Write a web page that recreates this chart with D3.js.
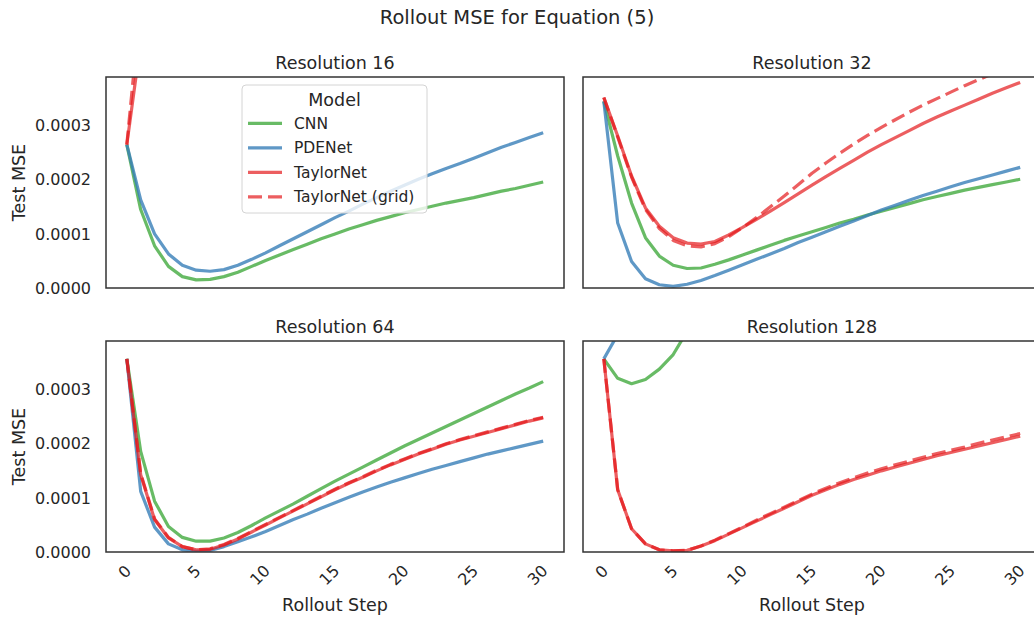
<!DOCTYPE html>
<html><head><meta charset="utf-8">
<script src="https://cdn.jsdelivr.net/npm/d3@7"></script>
<style>
body{margin:0;background:#fff}
text{font-family:"DejaVu Sans",sans-serif;fill:#262626}
</style>
</head><body>
<svg id="chart" width="1034" height="620"></svg>
<script>
// ---------- data ----------
const steps = [0,1,2,3,4,5,6,7,8,9,10,11,12,13,14,15,16,17,18,19,20,21,22,23,24,25,26,27,28,29,30];
const models = ["CNN","PDENet","TaylorNet","TaylorNet (grid)"];
const resolutions = ["Resolution 16","Resolution 32","Resolution 64","Resolution 128"];
const yTicks = [0,0.0001,0.0002,0.0003];
const xTicks = [0,5,10,15,20,25,30];

// Resolution 16
const r16_cnn = [2.65e-4,1.45e-4,0.78e-4,0.40e-4,0.21e-4,0.15e-4,0.16e-4,0.21e-4,0.29e-4,0.40e-4,0.51e-4,0.61e-4,0.71e-4,0.81e-4,0.91e-4,1.00e-4,1.09e-4,1.17e-4,1.25e-4,1.32e-4,1.39e-4,1.45e-4,1.51e-4,1.57e-4,1.62e-4,1.67e-4,1.73e-4,1.79e-4,1.84e-4,1.90e-4,1.96e-4];
const r16_pde = [2.65e-4,1.63e-4,1.00e-4,0.63e-4,0.42e-4,0.33e-4,0.31e-4,0.34e-4,0.42e-4,0.53e-4,0.65e-4,0.78e-4,0.91e-4,1.04e-4,1.17e-4,1.30e-4,1.42e-4,1.55e-4,1.67e-4,1.79e-4,1.90e-4,2.01e-4,2.11e-4,2.21e-4,2.30e-4,2.40e-4,2.50e-4,2.60e-4,2.69e-4,2.78e-4,2.87e-4];
const r16_tay = [2.65e-4,4.55e-4,7.2e-4,10.5e-4,14.8e-4,20.1e-4,26.5e-4,34.0e-4,43.0e-4,53.0e-4,64.0e-4,76.0e-4,89.0e-4,103e-4,118e-4,134e-4,151e-4,169e-4,188e-4,208e-4,229e-4,251e-4,274e-4,298e-4,323e-4,349e-4,376e-4,404e-4,433e-4,463e-4,494e-4];
const r16_tayg = [2.65e-4,5.30e-4,8.6e-4,12.9e-4,18.2e-4,24.8e-4,32.5e-4,41.5e-4,52.0e-4,64.0e-4,77.0e-4,91.0e-4,106e-4,122e-4,139e-4,157e-4,176e-4,196e-4,217e-4,239e-4,262e-4,286e-4,311e-4,337e-4,364e-4,392e-4,421e-4,451e-4,482e-4,514e-4,547e-4];

// Resolution 32
const r32_cnn = [3.45e-4,2.44e-4,1.57e-4,0.93e-4,0.59e-4,0.42e-4,0.36e-4,0.37e-4,0.44e-4,0.52e-4,0.61e-4,0.70e-4,0.79e-4,0.88e-4,0.96e-4,1.04e-4,1.12e-4,1.20e-4,1.27e-4,1.35e-4,1.42e-4,1.49e-4,1.56e-4,1.63e-4,1.69e-4,1.75e-4,1.81e-4,1.86e-4,1.91e-4,1.96e-4,2.01e-4];
const r32_pde = [3.45e-4,1.20e-4,0.49e-4,0.17e-4,0.06e-4,0.03e-4,0.07e-4,0.14e-4,0.23e-4,0.33e-4,0.43e-4,0.53e-4,0.63e-4,0.73e-4,0.84e-4,0.94e-4,1.04e-4,1.14e-4,1.24e-4,1.34e-4,1.44e-4,1.53e-4,1.62e-4,1.71e-4,1.79e-4,1.87e-4,1.95e-4,2.02e-4,2.09e-4,2.16e-4,2.23e-4];
const r32_tay = [3.52e-4,2.81e-4,2.07e-4,1.48e-4,1.14e-4,0.93e-4,0.83e-4,0.81e-4,0.86e-4,0.98e-4,1.12e-4,1.27e-4,1.42e-4,1.58e-4,1.74e-4,1.90e-4,2.06e-4,2.21e-4,2.36e-4,2.51e-4,2.65e-4,2.78e-4,2.91e-4,3.04e-4,3.16e-4,3.27e-4,3.38e-4,3.49e-4,3.60e-4,3.70e-4,3.80e-4];
const r32_tayg = [3.52e-4,2.79e-4,2.05e-4,1.45e-4,1.10e-4,0.88e-4,0.78e-4,0.76e-4,0.82e-4,0.95e-4,1.12e-4,1.30e-4,1.50e-4,1.70e-4,1.91e-4,2.12e-4,2.31e-4,2.49e-4,2.66e-4,2.82e-4,2.97e-4,3.11e-4,3.25e-4,3.38e-4,3.50e-4,3.62e-4,3.74e-4,3.85e-4,3.96e-4,4.06e-4,4.16e-4];

// Resolution 64
const r64_cnn = [3.57e-4,1.86e-4,0.94e-4,0.47e-4,0.27e-4,0.20e-4,0.20e-4,0.26e-4,0.36e-4,0.49e-4,0.63e-4,0.76e-4,0.89e-4,1.03e-4,1.17e-4,1.31e-4,1.44e-4,1.57e-4,1.70e-4,1.83e-4,1.96e-4,2.08e-4,2.20e-4,2.32e-4,2.44e-4,2.56e-4,2.68e-4,2.80e-4,2.92e-4,3.03e-4,3.15e-4];
const r64_pde = [3.57e-4,1.12e-4,0.46e-4,0.15e-4,0.04e-4,0.01e-4,0.03e-4,0.10e-4,0.19e-4,0.28e-4,0.38e-4,0.49e-4,0.60e-4,0.70e-4,0.81e-4,0.91e-4,1.01e-4,1.11e-4,1.20e-4,1.29e-4,1.37e-4,1.45e-4,1.53e-4,1.60e-4,1.67e-4,1.74e-4,1.81e-4,1.87e-4,1.93e-4,1.99e-4,2.05e-4];
const r64_tay = [3.57e-4,1.43e-4,0.60e-4,0.26e-4,0.10e-4,0.04e-4,0.05e-4,0.13e-4,0.24e-4,0.37e-4,0.50e-4,0.63e-4,0.76e-4,0.89e-4,1.02e-4,1.15e-4,1.27e-4,1.38e-4,1.50e-4,1.61e-4,1.71e-4,1.81e-4,1.90e-4,1.99e-4,2.07e-4,2.14e-4,2.21e-4,2.28e-4,2.35e-4,2.42e-4,2.48e-4];
const r64_tayg = [3.57e-4,1.45e-4,0.61e-4,0.27e-4,0.10e-4,0.04e-4,0.06e-4,0.14e-4,0.25e-4,0.38e-4,0.51e-4,0.64e-4,0.77e-4,0.90e-4,1.03e-4,1.16e-4,1.28e-4,1.39e-4,1.51e-4,1.62e-4,1.72e-4,1.82e-4,1.91e-4,2.00e-4,2.08e-4,2.15e-4,2.22e-4,2.29e-4,2.36e-4,2.43e-4,2.49e-4];

// Resolution 128
const r128_cnn = [3.57e-4,3.21e-4,3.11e-4,3.19e-4,3.38e-4,3.65e-4,4.08e-4,4.60e-4,5.20e-4,5.90e-4,6.70e-4,7.60e-4,8.60e-4,9.70e-4,10.9e-4,12.2e-4,13.6e-4,15.1e-4,16.7e-4,18.4e-4,20.2e-4,22.1e-4,24.1e-4,26.2e-4,28.4e-4,30.7e-4,33.1e-4,35.6e-4,38.2e-4,40.9e-4,43.7e-4];
const r128_pde = [3.57e-4,4.02e-4,4.70e-4,5.50e-4,6.40e-4,7.40e-4,8.50e-4,9.70e-4,11.0e-4,12.4e-4,13.9e-4,15.5e-4,17.2e-4,19.0e-4,20.9e-4,22.9e-4,25.0e-4,27.2e-4,29.5e-4,31.9e-4,34.4e-4,37.0e-4,39.7e-4,42.5e-4,45.4e-4,48.4e-4,51.5e-4,54.7e-4,58.0e-4,61.4e-4,64.9e-4];
const r128_tay = [3.57e-4,1.15e-4,0.43e-4,0.15e-4,0.04e-4,0.02e-4,0.03e-4,0.11e-4,0.21e-4,0.33e-4,0.45e-4,0.57e-4,0.69e-4,0.81e-4,0.93e-4,1.05e-4,1.15e-4,1.25e-4,1.34e-4,1.42e-4,1.50e-4,1.57e-4,1.64e-4,1.71e-4,1.78e-4,1.84e-4,1.90e-4,1.96e-4,2.02e-4,2.08e-4,2.14e-4];
const r128_tayg = [3.57e-4,1.15e-4,0.43e-4,0.15e-4,0.04e-4,0.02e-4,0.03e-4,0.11e-4,0.22e-4,0.34e-4,0.46e-4,0.59e-4,0.71e-4,0.83e-4,0.95e-4,1.07e-4,1.18e-4,1.28e-4,1.37e-4,1.46e-4,1.54e-4,1.61e-4,1.68e-4,1.75e-4,1.82e-4,1.88e-4,1.94e-4,2.01e-4,2.07e-4,2.13e-4,2.19e-4];

const panelSeries = [
  [r16_cnn, r16_pde, r16_tay, r16_tayg],
  [r32_cnn, r32_pde, r32_tay, r32_tayg],
  [r64_cnn, r64_pde, r64_tay, r64_tayg],
  [r128_cnn, r128_pde, r128_tay, r128_tayg]
];

// ---------- styles / layout ----------
const colors = ["#4daf4a","#377eb8","#e41a1c","#e41a1c"];
const opac = [0.85,0.8,0.7,0.7];
const dashes = [null,null,null,"14,6"];
const PW = 458, PH = 211;
const origins = [[106,77],[583,77],[106,341],[583,341]];

const svg = d3.select("#chart");
svg.append("rect").attr("width",1034).attr("height",620).attr("fill","#fff");

svg.append("text").attr("x",517).attr("y",24).attr("text-anchor","middle")
  .style("font-size","19.5px").text("Rollout MSE for Equation (5)");

panelSeries.forEach((series, pi) => {
  const [x0,y0] = origins[pi];
  const x = d3.scaleLinear().domain([-1.5,31.5]).range([x0, x0+PW]);
  const y = d3.scaleLinear().domain([0,0.00039]).range([y0+PH, y0]);
  const g = svg.append("g");
  const cid = "clip"+pi;
  svg.append("clipPath").attr("id",cid).append("rect")
    .attr("x",x0).attr("y",y0).attr("width",PW).attr("height",PH);

  const line = d3.line().x((d,i)=>x(steps[i])).y(d=>y(d));
  const lg = g.append("g").attr("clip-path",`url(#${cid})`);
  series.forEach((vals, si) => {
    lg.append("path").datum(vals).attr("d",line)
      .attr("fill","none").attr("stroke",colors[si]).attr("stroke-opacity",opac[si])
      .attr("stroke-width",3.2).attr("stroke-linejoin","round")
      .attr("stroke-dasharray",dashes[si]);
  });

  g.append("rect").attr("x",x0).attr("y",y0).attr("width",PW).attr("height",PH)
    .attr("fill","none").attr("stroke","#333").attr("stroke-width",1.5);

  g.append("text").attr("x",x0+PW/2).attr("y",y0-8).attr("text-anchor","middle")
    .style("font-size","17.5px").text(resolutions[pi]);

  if (pi % 2 === 0) {
    const ax = g.append("g").attr("transform",`translate(${x0},0)`)
      .call(d3.axisLeft(y).tickValues(yTicks).tickSize(0).tickPadding(15).tickFormat(d3.format(".4f")));
    ax.select(".domain").remove();
    ax.selectAll("text").style("font-size","16px").attr("fill","#262626")
      .style("font-family",'"DejaVu Sans",sans-serif');
    g.append("text").attr("transform",`translate(25,${y0+PH/2}) rotate(-90)`)
      .attr("text-anchor","middle").style("font-size","17.5px").text("Test MSE");
  }
  if (pi >= 2) {
    const ax = g.append("g").attr("transform",`translate(0,${y0+PH})`)
      .call(d3.axisBottom(x).tickValues(xTicks).tickSize(0).tickPadding(0));
    ax.select(".domain").remove();
    ax.selectAll(".tick text").attr("text-anchor","end").attr("dy",null).attr("y",null)
      .attr("transform","translate(-3,12) rotate(-45)").attr("dy","0.7em")
      .style("font-size","16px").attr("fill","#262626")
      .style("font-family",'"DejaVu Sans",sans-serif');
    g.append("text").attr("x",x0+PW/2).attr("y",611).attr("text-anchor","middle")
      .style("font-size","17.5px").text("Rollout Step");
  }
});

// ---------- legend ----------
const leg = svg.append("g");
leg.append("rect").attr("x",242).attr("y",85).attr("width",185).attr("height",128).attr("rx",4)
  .attr("fill","#fff").attr("fill-opacity",0.8).attr("stroke","#d4d4d4").attr("stroke-width",1);
leg.append("text").attr("x",334.5).attr("y",106).attr("text-anchor","middle")
  .style("font-size","17.5px").text("Model");
models.forEach((m,i) => {
  const yy = 123.3 + i*24.5;
  leg.append("line").attr("x1",248).attr("x2",282).attr("y1",yy).attr("y2",yy)
    .attr("stroke",colors[i]).attr("stroke-opacity",opac[i]).attr("stroke-width",3.2)
    .attr("stroke-dasharray",dashes[i]);
  leg.append("text").attr("x",294).attr("y",yy).attr("dy","0.35em")
    .style("font-size","15.5px").text(m);
});
</script>
</body></html>
